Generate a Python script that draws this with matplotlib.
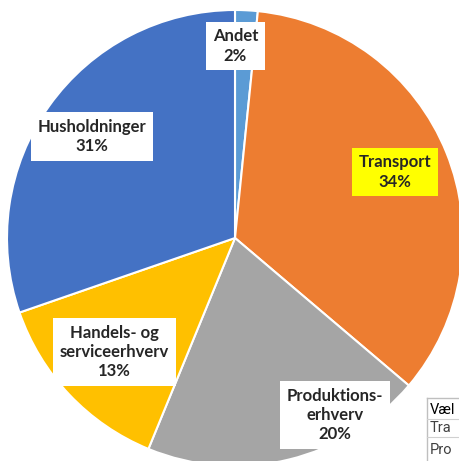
import matplotlib
matplotlib.use("Agg")
import matplotlib.pyplot as plt

# Data (clockwise from 12 o'clock)
categories = ["Andet", "Transport", "Produktionserhverv", "Handels- og serviceerhverv", "Husholdninger"]
values = [1.6, 34.6, 20.0, 13.5, 30.3]
label_texts = ["Andet\n2%", "Transport\n34%", "Produktions-\nerhverv\n20%",
               "Handels- og\nserviceerhverv\n13%", "Husholdninger\n31%"]
colors = ["#5B9BD5", "#ED7D31", "#A5A5A5", "#FFC000", "#4472C4"]
label_bg = ["white", "#FFFF00", "white", "white", "white"]
table_rows = ["Væl", "Tra", "Pro"]

W, H = 460, 461
fig = plt.figure(figsize=(W / 100, H / 100), dpi=100)
ax = fig.add_axes([0, 0, 1, 1])

def py(y):
    return H - y

ax.pie(values, colors=colors, startangle=90, counterclock=False,
       center=(235, py(238)), radius=228, frame=True,
       wedgeprops=dict(edgecolor="white", linewidth=1.5))
ax.set_xlim(0, W)
ax.set_ylim(0, H)
ax.set_aspect("equal")
ax.axis("off")

label_pos = [(235.5, 46), (395, 172), (335, 415), (114.5, 352), (92, 136.5)]
for txt, (x, y), bg in zip(label_texts, label_pos, label_bg):
    ax.text(x, py(y), txt, ha="center", va="center", fontsize=12, fontweight="bold",
            family=["Lato", "DejaVu Sans"], color="#262626", linespacing=1.25, multialignment="center",
            bbox=dict(boxstyle="square,pad=0.4", facecolor=bg, edgecolor="none"), zorder=5)

# Partial table at bottom right
tx0, ty0 = 427, 398
ax.plot([tx0, W], [py(ty0), py(ty0)], color="#BFBFBF", lw=1, zorder=6, clip_on=False)
ax.plot([tx0, tx0], [py(ty0), 0], color="#BFBFBF", lw=1, zorder=6, clip_on=False)
for yl in [419, 437]:
    ax.plot([tx0, W], [py(yl), py(yl)], color="#D0D0D0", lw=0.8, zorder=6)
row_y = [410, 428, 450]
row_col = ["black", "#404040", "#404040"]
for r, yy, c in zip(table_rows, row_y, row_col):
    ax.text(tx0 + 3, py(yy), r, ha="left", va="center", fontsize=10.5,
            family=["Roboto", "DejaVu Sans"], color=c, zorder=7)

fig.savefig("out.png", dpi=100)
